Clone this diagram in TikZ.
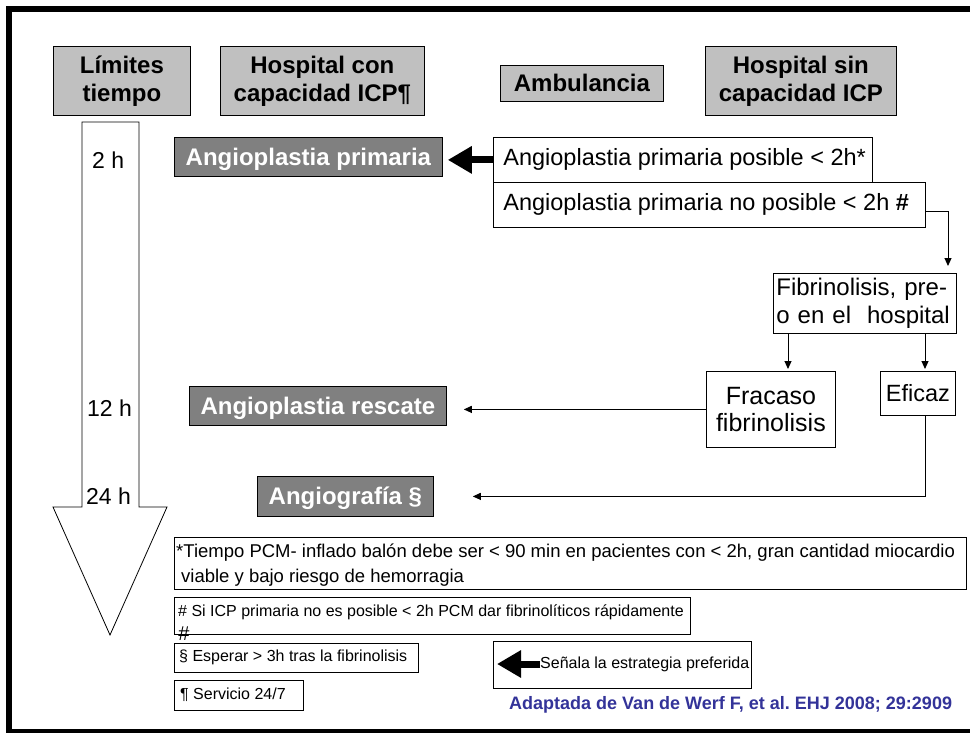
\documentclass[tikz,border=0pt]{standalone}
\usepackage{fontspec}
\setmainfont{Liberation Sans}
\usetikzlibrary{arrows.meta,calc}
\definecolor{hdrgray}{RGB}{192,192,192}
\definecolor{boxdark}{RGB}{128,128,128}
\definecolor{citeblue}{RGB}{51,51,153}
\frenchspacing
\begin{document}
\begin{tikzpicture}[x=1pt,y=-1pt,
  hdr/.style={draw, fill=hdrgray, line width=0.8pt, align=center, inner sep=0pt, anchor=north west, font=\bfseries\fontsize{24}{28}\selectfont},
  dark/.style={draw, fill=boxdark, text=white, line width=0.8pt, inner sep=0pt, anchor=north west, text height=17pt, text depth=0pt, font=\bfseries\fontsize{24}{28}\selectfont},
  wbox/.style={draw, fill=white, line width=0.8pt, inner sep=0pt, anchor=north west, font=\fontsize{23.5}{28}\selectfont},
  nbox/.style={draw, fill=white, line width=0.8pt, inner sep=0pt, anchor=north west},
  ntext/.style={anchor=west, inner sep=0pt, font=\fontsize{16}{19}\selectfont},
  tlabel/.style={anchor=west, inner sep=0pt, font=\fontsize{23}{26}\selectfont},
  thinarrow/.style={line width=1pt, -{Triangle[length=8pt,width=7pt]}},
  bigarrow/.style={line width=7pt, -{Triangle[length=24pt,width=26pt]}},
]
\useasboundingbox (0,0) rectangle (970,733);
\begin{scope}
  \clip (0,0) rectangle (970,733);
  \draw[line width=6pt] (9,9) rectangle (990,732);
\end{scope}

% headers
\node[hdr, minimum width=137pt, minimum height=69pt] (lim) at (53,46) {Límites\\tiempo};
\node[hdr, minimum width=204pt, minimum height=69pt] (hcon) at (220,46) {Hospital con\\capacidad ICP¶};
\node[hdr, minimum width=163pt, minimum height=36pt] (amb) at (500,65) {Ambulancia};
\node[hdr, minimum width=191pt, minimum height=69pt] (hsin) at (705,46) {Hospital sin\\capacidad ICP};

% time arrow
\draw[line width=0.8pt, fill=white] (82,122) -- (139,122) -- (139,507) -- (167,507) -- (110,635) -- (53,507) -- (82,507) -- cycle;
\node[tlabel] (t2) at (92,160) {2 h};
\node[tlabel] (t12) at (87,408) {12 h};
\node[tlabel] (t24) at (86,496) {24 h};

% dark boxes
\node[dark, minimum width=268pt, minimum height=39pt] (apr) at (174,137) {Angioplastia primaria};
\node[dark, minimum width=257pt, minimum height=39pt] (resc) at (189,386) {Angioplastia rescate};
\node[dark, minimum width=176pt, minimum height=40pt] (angi) at (257,476) {Angiografía §};

% white boxes
\node[wbox, minimum height=45pt] (app1) at (493,137) {\makebox[379pt][l]{\hspace{10pt}Angioplastia primaria posible < 2h*}};
\node[wbox, minimum height=45pt] (app2) at (493,182) {\makebox[432pt][l]{\hspace{10pt}Angioplastia primaria no posible < 2h \textbf{\#}}};
\node[wbox, minimum width=183pt, minimum height=60pt, text width=177pt, inner xsep=3pt, align=left, font=\fontsize{24}{28}\selectfont] (fib) at (773,273) {Fibrinolisis, pre-\\o en el\ \ hospital};
\node[wbox, minimum width=129pt, minimum height=76pt, text width=125pt, inner xsep=2pt, align=center, font=\fontsize{25}{27}\selectfont] (fra) at (706,371) {Fracaso\\fibrinolisis};
\node[wbox, minimum width=75pt, minimum height=44pt] (eff) at (880,371) {Eficaz};

% connectors
\coordinate (k1) at (948,212);
\coordinate (k2) at (788,0);
\coordinate (k3) at (925,0);
\draw[bigarrow, shorten >=5pt] (app1.west) -- (app1.west -| apr.east);
\draw[thinarrow, shorten >=7pt] (app2.east |- k1) -| (fib.north -| k1);
\draw[thinarrow, shorten >=2pt] (fib.south -| k2) -- (fra.north -| k2);
\draw[thinarrow, shorten >=2pt] (fib.south -| k3) -- (eff.north -| k3);
\draw[thinarrow, shorten >=17pt] (fra.west) -- (fra.west -| resc.east);
\draw[thinarrow, shorten >=39pt] (eff.south -| k3) |- (angi.east);

% footnotes
\node[nbox, minimum width=792pt, minimum height=52pt] (n1) at (174,537) {};
\node[ntext, font=\fontsize{18.5}{22}\selectfont] (n1a) at (176,553) {*Tiempo PCM- inflado balón debe ser < 90 min en pacientes con < 2h, gran cantidad miocardio};
\node[ntext, font=\fontsize{18.5}{22}\selectfont] (n1b) at (181,578) {viable y bajo riesgo de hemorragia};

\node[nbox, minimum width=516pt, minimum height=37pt] (n2) at (174,597) {};
\node[ntext] (n2a) at (178,612) {\# Si ICP primaria no es posible < 2h PCM dar fibrinolíticos rápidamente};
\node[inner sep=0pt, font=\fontsize{20}{20}\selectfont] (hash) at (184,634) {\#};

\node[nbox, minimum width=244pt, minimum height=29pt] (n3) at (174,643) {};
\node[ntext] (n3a) at (179,657) {§ Esperar > 3h tras la fibrinolisis};

\node[nbox, minimum width=129pt, minimum height=30pt] (n4) at (174,680) {};
\node[ntext] (n4a) at (180,695) {¶ Servicio 24/7};

\node[nbox, minimum width=258pt, minimum height=47pt] (n5) at (493,641) {};
\coordinate (a5) at (497,664);
\node[ntext] (n5a) at (540,664) {Señala la estrategia preferida};
\draw[bigarrow] (n5a.west) -- (a5);

\node[anchor=west, inner sep=0pt, text=citeblue, font=\bfseries\fontsize{18}{20}\selectfont] (cite) at (509,705) {Adaptada de Van de Werf F, et al. EHJ 2008; 29:2909};
\end{tikzpicture}
\end{document}
